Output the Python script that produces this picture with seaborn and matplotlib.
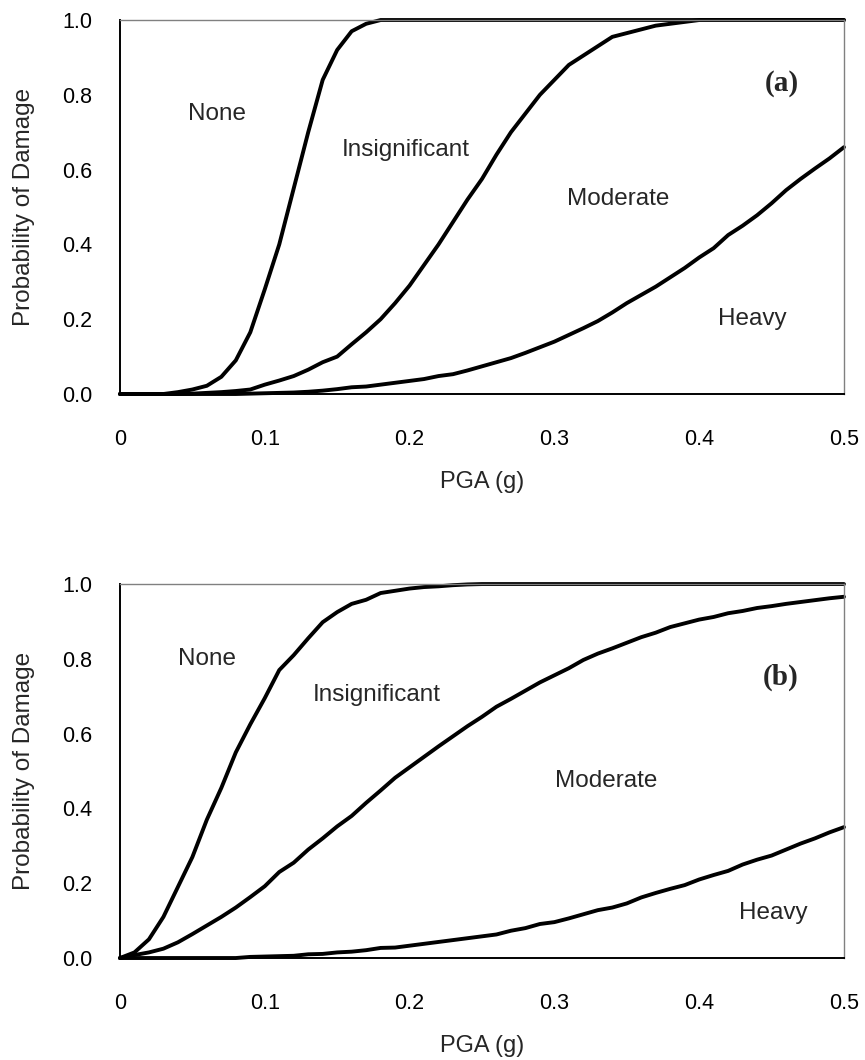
import numpy as np
import pandas as pd
import matplotlib
matplotlib.use("Agg")
import matplotlib.pyplot as plt
import seaborn as sns

# --- data (PGA step 0.01 g) ---
pga = [round(0.01 * i, 2) for i in range(51)]

# panel (a)
a_none = [0, 0, 0, 0, 0.005, 0.012, 0.022, 0.046, 0.09, 0.165,
          0.28, 0.40, 0.55, 0.70, 0.84, 0.92, 0.97, 0.99, 1.0, 1.0,
          1.0, 1.0, 1.0, 1.0, 1.0, 1.0, 1.0, 1.0, 1.0, 1.0,
          1.0, 1.0, 1.0, 1.0, 1.0, 1.0, 1.0, 1.0, 1.0, 1.0,
          1.0, 1.0, 1.0, 1.0, 1.0, 1.0, 1.0, 1.0, 1.0, 1.0, 1.0]
a_insig = [0, 0, 0, 0, 0, 0.001, 0.003, 0.005, 0.008, 0.012,
           0.025, 0.036, 0.048, 0.065, 0.085, 0.10, 0.133, 0.165, 0.20, 0.243,
           0.29, 0.345, 0.40, 0.46, 0.52, 0.575, 0.64, 0.70, 0.75, 0.80,
           0.84, 0.88, 0.905, 0.93, 0.955, 0.965, 0.975, 0.985, 0.99, 0.995,
           1.0, 1.0, 1.0, 1.0, 1.0, 1.0, 1.0, 1.0, 1.0, 1.0, 1.0]
a_mod = [0, 0, 0, 0, 0, 0, 0, 0, 0, 0.001,
         0.002, 0.003, 0.004, 0.006, 0.009, 0.013, 0.018, 0.02, 0.025, 0.03,
         0.035, 0.04, 0.048, 0.053, 0.063, 0.074, 0.085, 0.096, 0.11, 0.125,
         0.14, 0.158, 0.176, 0.195, 0.218, 0.243, 0.265, 0.287, 0.312, 0.337,
         0.365, 0.39, 0.425, 0.45, 0.478, 0.51, 0.545, 0.575, 0.603, 0.63, 0.66]

# panel (b)
b_none = [0, 0.015, 0.05, 0.11, 0.19, 0.27, 0.37, 0.455, 0.55, 0.625,
          0.695, 0.77, 0.81, 0.855, 0.898, 0.925, 0.947, 0.958, 0.976, 0.982,
          0.988, 0.992, 0.994, 0.997, 0.999, 1.0, 1.0, 1.0, 1.0, 1.0,
          1.0, 1.0, 1.0, 1.0, 1.0, 1.0, 1.0, 1.0, 1.0, 1.0,
          1.0, 1.0, 1.0, 1.0, 1.0, 1.0, 1.0, 1.0, 1.0, 1.0, 1.0]
b_insig = [0, 0.008, 0.015, 0.025, 0.042, 0.064, 0.087, 0.11, 0.135, 0.163,
           0.192, 0.23, 0.255, 0.29, 0.32, 0.352, 0.38, 0.415, 0.448, 0.482,
           0.51, 0.538, 0.566, 0.593, 0.62, 0.645, 0.672, 0.693, 0.715, 0.737,
           0.756, 0.775, 0.797, 0.814, 0.828, 0.843, 0.858, 0.87, 0.885, 0.895,
           0.905, 0.912, 0.922, 0.928, 0.936, 0.941, 0.947, 0.952, 0.957, 0.962, 0.966]
b_mod = [0, 0, 0, 0, 0, 0, 0, 0, 0, 0.003,
         0.004, 0.005, 0.006, 0.01, 0.011, 0.015, 0.017, 0.021, 0.027, 0.028,
         0.033, 0.038, 0.043, 0.048, 0.053, 0.058, 0.063, 0.073, 0.08, 0.091,
         0.096, 0.106, 0.117, 0.128, 0.135, 0.146, 0.162, 0.174, 0.185, 0.195,
         0.21, 0.222, 0.233, 0.25, 0.263, 0.274, 0.29, 0.306, 0.32, 0.336, 0.35]

x_ticks = [0, 0.1, 0.2, 0.3, 0.4, 0.5]
x_ticklabels = ["0", "0.1", "0.2", "0.3", "0.4", "0.5"]
y_ticks = [0, 0.2, 0.4, 0.6, 0.8, 1.0]
y_ticklabels = ["0.0", "0.2", "0.4", "0.6", "0.8", "1.0"]

region_names = ["None", "Insignificant", "Moderate", "Heavy"]
a_label_pos = [(0.067, 0.75), (0.1975, 0.652), (0.344, 0.521), (0.4365, 0.20)]
b_label_pos = [(0.060, 0.80), (0.177, 0.703), (0.336, 0.473), (0.451, 0.12)]

sns.set_style("white")
plt.rcParams["font.family"] = ["Liberation Sans", "DejaVu Sans"]

fig = plt.figure(figsize=(8.65, 10.6), dpi=100)
ax_a = fig.add_axes([0.1387, 0.6283, 0.837, 0.3528])
ax_b = fig.add_axes([0.1387, 0.0962, 0.837, 0.3528])

panels = [
    (ax_a, [a_none, a_insig, a_mod], a_label_pos, "(a)", (0.457, 0.83)),
    (ax_b, [b_none, b_insig, b_mod], b_label_pos, "(b)", (0.456, 0.75)),
]

for ax, curves, label_pos, tag, tag_pos in panels:
    for ys in curves:
        df = pd.DataFrame({"PGA": pga, "P": ys})
        sns.lineplot(data=df, x="PGA", y="P", ax=ax, color="black",
                     linewidth=2.8, clip_on=False)

    ax.set_xlim(0, 0.5)
    ax.set_ylim(0, 1.0)
    ax.set_xticks(x_ticks)
    ax.set_xticklabels(x_ticklabels)
    ax.set_yticks(y_ticks)
    ax.set_yticklabels(y_ticklabels)
    ax.tick_params(axis="both", direction="out", length=8, width=1,
                   color="#808080", labelsize=15.5, labelcolor="black")
    ax.tick_params(axis="x", pad=17)
    ax.tick_params(axis="y", pad=12)

    for side in ["left", "bottom"]:
        ax.spines[side].set_color("black")
        ax.spines[side].set_linewidth(1.4)
    for side in ["top", "right"]:
        ax.spines[side].set_color("#808080")
        ax.spines[side].set_linewidth(1.0)

    ax.set_xlabel("PGA (g)", fontsize=17)
    ax.xaxis.set_label_coords(0.5, -88 / 374)
    ax.xaxis.label.set_va("center")
    ax.set_ylabel("Probability of Damage", fontsize=17.5)
    ax.yaxis.set_label_coords(-96 / 724, 0.5)
    ax.yaxis.label.set_va("center")

    for name, (lx, ly) in zip(region_names, label_pos):
        ax.text(lx, ly, name, fontsize=17.5, ha="center", va="center")

    ax.text(tag_pos[0], tag_pos[1], tag, fontsize=21, fontweight="bold",
            family=["Liberation Serif", "DejaVu Serif"], ha="center", va="center")

fig.savefig("out.png", dpi=100)
